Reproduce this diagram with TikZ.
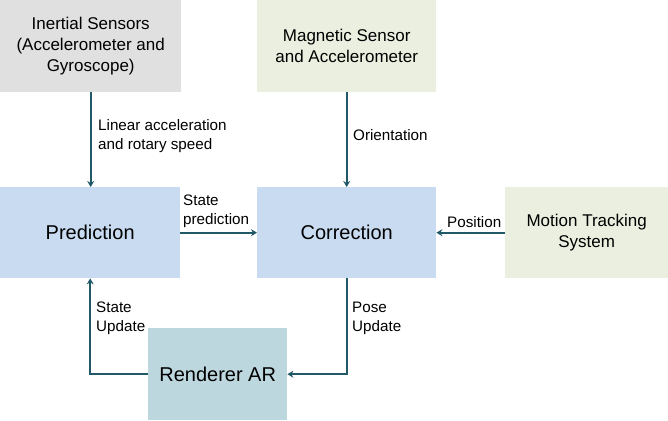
\documentclass[tikz,border=0pt]{standalone}
\usepackage{fontspec}
\setmainfont{Liberation Sans}
\usetikzlibrary{arrows.meta}
\definecolor{grayfill}{HTML}{E0E0E0}
\definecolor{greenfill}{HTML}{EBEFDF}
\definecolor{bluefill}{HTML}{C9DBF0}
\definecolor{tealfill}{HTML}{BDD7DE}
\definecolor{arrowcol}{HTML}{215968}
\begin{document}
\begin{tikzpicture}[x=1pt,y=-1pt,
  box/.style={draw=none,inner sep=0pt,align=center,anchor=north west},
  bigbox/.style={box,font=\fontsize{20}{24}\selectfont},
  smallbox/.style={box,font=\fontsize{17}{21}\selectfont},
  lbl/.style={inner sep=0pt,align=left,anchor=west,font=\fontsize{15.2}{19}\selectfont},
  conn/.style={draw=arrowcol,line width=2pt,-{Stealth[length=6pt,width=7pt,inset=2pt]}}]
\useasboundingbox (0,0) rectangle (668,420);
\node[smallbox,fill=grayfill,minimum width=181pt,minimum height=92pt] (ins) at (0,0) {Inertial Sensors\\(Accelerometer and\\Gyroscope)};
\node[smallbox,fill=greenfill,minimum width=179pt,minimum height=92pt] (mag) at (257,0) {Magnetic Sensor\\and Accelerometer};
\node[bigbox,fill=bluefill,minimum width=180pt,minimum height=91pt] (pred) at (0,187) {Prediction};
\node[bigbox,fill=bluefill,minimum width=179pt,minimum height=91pt] (cor) at (257,187) {Correction};
\node[smallbox,fill=greenfill,minimum width=163pt,minimum height=91pt] (mot) at (505,187) {Motion Tracking\\System};
\node[bigbox,fill=tealfill,minimum width=139pt,minimum height=92pt] (ren) at (148,328) {Renderer AR};
\draw[conn] (ins.south) -- (ins.south |- pred.north);
\draw[conn] (mag.south) -- (cor.north);
\draw[conn] (pred.east) -- (cor.west);
\draw[conn] (mot.west) -- (cor.east);
\draw[conn] (cor.south) |- (ren.east);
\draw[conn] (ren.west) -| (pred.south);
\node[lbl] (l1) at (98,136.5) {Linear acceleration\\and rotary speed};
\node[lbl] (l2) at (353,135) {Orientation};
\node[lbl] (l3) at (183,211) {State\\prediction};
\node[lbl] (l4) at (447,222) {Position};
\node[lbl] (l5) at (352,318) {Pose\\Update};
\node[lbl] (l6) at (96,318) {State\\Update};
\end{tikzpicture}
\end{document}
